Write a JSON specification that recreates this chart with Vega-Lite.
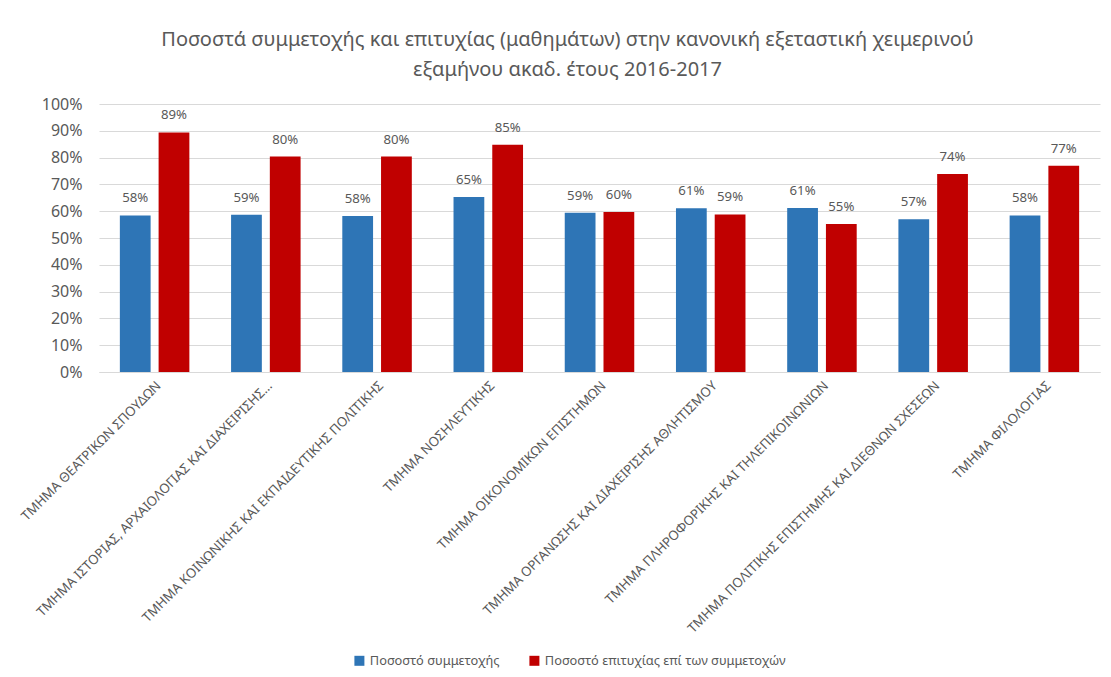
{
  "$schema": "https://vega.github.io/schema/vega-lite/v6.json",
  "width": 1001,
  "height": 268,
  "autosize": {"type": "none"},
  "padding": {"left": 99, "top": 104, "right": 11, "bottom": 305},
  "background": "white",
  "config": {
    "font": "Noto Sans",
    "view": {"stroke": null},
    "axis": {"labelColor": "#595959", "titleColor": "#595959"}
  },
  "title": {
    "text": ["Ποσοστά συμμετοχής και επιτυχίας (μαθημάτων) στην κανονική εξεταστική χειμερινού", "εξαμήνου ακαδ. έτους 2016-2017"],
    "fontSize": 20,
    "fontWeight": "normal",
    "color": "#595959",
    "anchor": "middle",
    "frame": "group",
    "dx": -32,
    "lineHeight": 30,
    "offset": 16
  },
  "data": {
    "values": [
      {"dept": "ΤΜΗΜΑ ΘΕΑΤΡΙΚΩΝ ΣΠΟΥΔΩΝ", "series": "Ποσοστό συμμετοχής", "value": 0.584},
      {"dept": "ΤΜΗΜΑ ΘΕΑΤΡΙΚΩΝ ΣΠΟΥΔΩΝ", "series": "Ποσοστό επιτυχίας επί των συμμετοχών", "value": 0.894},
      {"dept": "ΤΜΗΜΑ ΙΣΤΟΡΙΑΣ, ΑΡΧΑΙΟΛΟΓΙΑΣ ΚΑΙ ΔΙΑΧΕΙΡΙΣΗΣ…", "series": "Ποσοστό συμμετοχής", "value": 0.587},
      {"dept": "ΤΜΗΜΑ ΙΣΤΟΡΙΑΣ, ΑΡΧΑΙΟΛΟΓΙΑΣ ΚΑΙ ΔΙΑΧΕΙΡΙΣΗΣ…", "series": "Ποσοστό επιτυχίας επί των συμμετοχών", "value": 0.804},
      {"dept": "ΤΜΗΜΑ ΚΟΙΝΩΝΙΚΗΣ ΚΑΙ ΕΚΠΑΙΔΕΥΤΙΚΗΣ ΠΟΛΙΤΙΚΗΣ", "series": "Ποσοστό συμμετοχής", "value": 0.582},
      {"dept": "ΤΜΗΜΑ ΚΟΙΝΩΝΙΚΗΣ ΚΑΙ ΕΚΠΑΙΔΕΥΤΙΚΗΣ ΠΟΛΙΤΙΚΗΣ", "series": "Ποσοστό επιτυχίας επί των συμμετοχών", "value": 0.804},
      {"dept": "ΤΜΗΜΑ ΝΟΣΗΛΕΥΤΙΚΗΣ", "series": "Ποσοστό συμμετοχής", "value": 0.653},
      {"dept": "ΤΜΗΜΑ ΝΟΣΗΛΕΥΤΙΚΗΣ", "series": "Ποσοστό επιτυχίας επί των συμμετοχών", "value": 0.848},
      {"dept": "ΤΜΗΜΑ ΟΙΚΟΝΟΜΙΚΩΝ ΕΠΙΣΤΗΜΩΝ", "series": "Ποσοστό συμμετοχής", "value": 0.594},
      {"dept": "ΤΜΗΜΑ ΟΙΚΟΝΟΜΙΚΩΝ ΕΠΙΣΤΗΜΩΝ", "series": "Ποσοστό επιτυχίας επί των συμμετοχών", "value": 0.597},
      {"dept": "ΤΜΗΜΑ ΟΡΓΑΝΩΣΗΣ ΚΑΙ ΔΙΑΧΕΙΡΙΣΗΣ ΑΘΛΗΤΙΣΜΟΥ", "series": "Ποσοστό συμμετοχής", "value": 0.611},
      {"dept": "ΤΜΗΜΑ ΟΡΓΑΝΩΣΗΣ ΚΑΙ ΔΙΑΧΕΙΡΙΣΗΣ ΑΘΛΗΤΙΣΜΟΥ", "series": "Ποσοστό επιτυχίας επί των συμμετοχών", "value": 0.588},
      {"dept": "ΤΜΗΜΑ ΠΛΗΡΟΦΟΡΙΚΗΣ ΚΑΙ ΤΗΛΕΠΙΚΟΙΝΩΝΙΩΝ", "series": "Ποσοστό συμμετοχής", "value": 0.612},
      {"dept": "ΤΜΗΜΑ ΠΛΗΡΟΦΟΡΙΚΗΣ ΚΑΙ ΤΗΛΕΠΙΚΟΙΝΩΝΙΩΝ", "series": "Ποσοστό επιτυχίας επί των συμμετοχών", "value": 0.552},
      {"dept": "ΤΜΗΜΑ ΠΟΛΙΤΙΚΗΣ ΕΠΙΣΤΗΜΗΣ ΚΑΙ ΔΙΕΘΝΩΝ ΣΧΕΣΕΩΝ", "series": "Ποσοστό συμμετοχής", "value": 0.570},
      {"dept": "ΤΜΗΜΑ ΠΟΛΙΤΙΚΗΣ ΕΠΙΣΤΗΜΗΣ ΚΑΙ ΔΙΕΘΝΩΝ ΣΧΕΣΕΩΝ", "series": "Ποσοστό επιτυχίας επί των συμμετοχών", "value": 0.739},
      {"dept": "ΤΜΗΜΑ ΦΙΛΟΛΟΓΙΑΣ", "series": "Ποσοστό συμμετοχής", "value": 0.584},
      {"dept": "ΤΜΗΜΑ ΦΙΛΟΛΟΓΙΑΣ", "series": "Ποσοστό επιτυχίας επί των συμμετοχών", "value": 0.770}
    ]
  },
  "encoding": {
    "x": {
      "field": "dept",
      "type": "nominal",
      "sort": null,
      "title": null,
      "scale": {"paddingInner": 0.375, "paddingOuter": 0.1875},
      "axis": {
        "labelAngle": -45,
        "labelFontSize": 13.2,
        "labelLimit": 600,
        "ticks": false,
        "domainColor": "#d9d9d9",
        "labelPadding": 7,
        "grid": false
      }
    },
    "xOffset": {
      "field": "series",
      "type": "nominal",
      "sort": ["Ποσοστό συμμετοχής", "Ποσοστό επιτυχίας επί των συμμετοχών"],
      "scale": {"paddingInner": 0.206, "paddingOuter": 0}
    },
    "y": {
      "field": "value",
      "type": "quantitative",
      "title": null,
      "scale": {"domain": [0, 1], "nice": false},
      "axis": {
        "format": ".0%",
        "values": [0, 0.1, 0.2, 0.3, 0.4, 0.5, 0.6, 0.7, 0.8, 0.9, 1],
        "labelOverlap": false,
        "labelFontSize": 16,
        "ticks": false,
        "domain": false,
        "gridColor": "#d9d9d9",
        "labelPadding": 17
      }
    }
  },
  "layer": [
    {
      "mark": {"type": "bar"},
      "encoding": {
        "color": {
          "field": "series",
          "type": "nominal",
          "sort": ["Ποσοστό συμμετοχής", "Ποσοστό επιτυχίας επί των συμμετοχών"],
          "scale": {"range": ["#2e75b6", "#c00000"]},
          "legend": {
            "title": null,
            "orient": "none",
            "direction": "horizontal",
            "legendX": 254,
            "legendY": 550,
            "symbolType": "square",
            "symbolSize": 100,
            "symbolStrokeWidth": 0,
            "labelFontSize": 12.8,
            "labelLimit": 400,
            "labelColor": "#595959",
            "columnPadding": 28,
            "labelOffset": 4
          }
        }
      }
    },
    {
      "mark": {"type": "text", "dy": -10, "fontSize": 13.2, "color": "#595959", "baseline": "bottom"},
      "encoding": {
        "text": {"field": "value", "type": "quantitative", "format": ".0%"}
      }
    }
  ]
}
